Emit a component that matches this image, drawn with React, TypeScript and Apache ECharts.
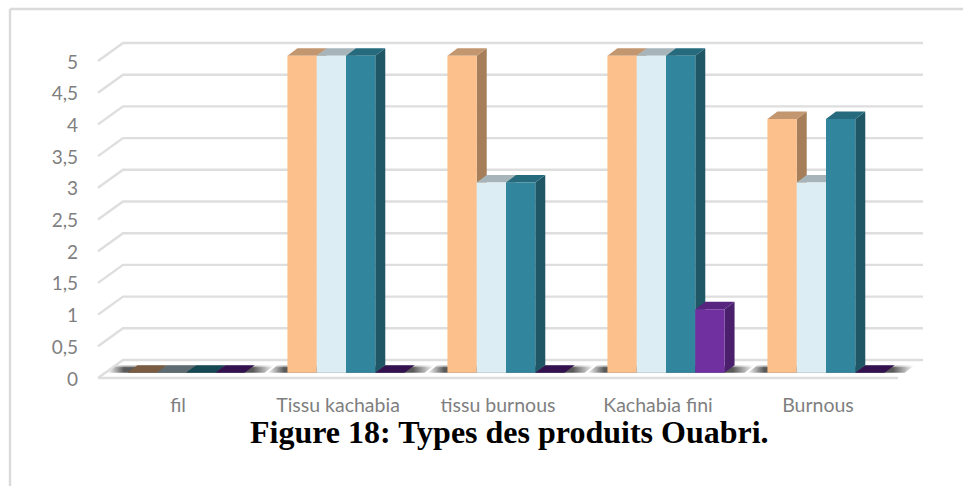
import React, { useEffect, useRef } from "react";
import * as echarts from "echarts";

const categories = ["fil", "Tissu kachabia", "tissu burnous", "Kachabia fini", "Burnous"];
const seriesA = [0, 5, 5, 5, 4];
const seriesB = [0, 5, 3, 5, 3];
const seriesC = [0, 5, 3, 5, 4];
const seriesD = [0, 0, 0, 1, 0];
const yTicks = [0, 0.5, 1, 1.5, 2, 2.5, 3, 3.5, 4, 4.5, 5];
const caption = "Figure 18: Types des produits Ouabri.";

const faces = [
  { front: "#FCC08C", top: "#C2966F", side: "#A67F5A", zero: "#7A5C42" },
  { front: "#DCEEF4", top: "#A7B5BA", side: "#A7B5BA", zero: "#5E6C71" },
  { front: "#31859C", top: "#266B7D", side: "#205767", zero: "#154853" },
  { front: "#7030A0", top: "#572480", side: "#4A1F6C", zero: "#34124F" },
];
const WALL = [25, -18];
const BASE = [8, -5.3];
const DEPTH = [10, -7.5];
const GRID_COLOR = "#DEDEDE";

const poly = (points: number[][], fill: any) => ({
  type: "polygon",
  shape: { points },
  style: { fill, stroke: null },
  silent: true,
});

const barSeries = (values: number[], idx: number) => ({
  type: "custom",
  z: 5,
  silent: true,
  encode: { x: 0, y: 1 },
  data: values.map((v, i) => [i, v]),
  renderItem: (_p: any, api: any) => {
    const cat = api.value(0);
    const val = api.value(1);
    const band = api.size([1, 0])[0];
    const w = band * 0.183;
    const cx = api.coord([cat, 0])[0];
    const x0 = cx - 2 * w + BASE[0] + idx * w;
    const x1 = x0 + w;
    const yB = api.coord([cat, 0])[1] + BASE[1];
    const yT = api.coord([cat, val])[1] + BASE[1];
    const f = faces[idx];
    const [dx, dy] = DEPTH;
    const children: any[] = [];
    if (val > 0) {
      children.push(poly([[x1, yT], [x1 + dx, yT + dy], [x1 + dx, yB + dy], [x1, yB]], f.side));
    }
    children.push(poly([[x0, yT], [x0 + dx, yT + dy], [x1 + dx, yT + dy], [x1, yT]], val > 0 ? f.top : f.zero));
    if (val > 0) {
      children.push(poly([[x0, yT], [x1, yT], [x1, yB], [x0, yB]], f.front));
    }
    return { type: "group", children };
  },
});

const wallSeries = {
  type: "custom",
  z: 1,
  silent: true,
  encode: { x: 0, y: 1 },
  data: yTicks.map((t) => [0, t]),
  renderItem: (p: any, api: any) => {
    const r = p.coordSys;
    const y = api.coord([0, api.value(1)])[1];
    const lineStyle = { stroke: GRID_COLOR, lineWidth: 2.4, fill: null };
    const points = [[r.x, y], [r.x + WALL[0], y + WALL[1]], [r.x + r.width + WALL[0], y + WALL[1]]];
    const children: any[] = [{ type: "polyline", shape: { points }, style: lineStyle, silent: true }];
    if (api.value(1) === 0) {
      children.push({
        type: "line",
        shape: { x1: r.x, y1: y, x2: r.x + r.width, y2: y },
        style: lineStyle,
        silent: true,
      });
    }
    return { type: "group", children };
  },
};

const shadowSeries = {
  type: "custom",
  z: 2,
  silent: true,
  encode: { x: 0, y: 1 },
  data: categories.map((_, i) => [i, 0]),
  renderItem: (_p: any, api: any) => {
    const cat = api.value(0);
    const band = api.size([1, 0])[0];
    const w = band * 0.183;
    const [cx, y0] = api.coord([cat, 0]);
    const yB = y0 + BASE[1];
    const x0 = cx - 2 * w + BASE[0] - 20;
    const x1 = cx + 2 * w + BASE[0] + 20;
    const fill = new echarts.graphic.LinearGradient(0, 0, 1, 0, [
      { offset: 0, color: "rgba(60,60,60,0)" },
      { offset: 0.1, color: "rgba(60,60,60,0.85)" },
      { offset: 0.87, color: "rgba(60,60,60,0.85)" },
      { offset: 1, color: "rgba(60,60,60,0)" },
    ]);
    const fadeTop = new echarts.graphic.LinearGradient(0, 0, 0, 1, [
      { offset: 0, color: "rgba(255,255,255,1)" },
      { offset: 1, color: "rgba(255,255,255,0)" },
    ]);
    return {
      type: "group",
      children: [
        poly([[x0, yB], [x0 + 10, yB - 7.5], [x1 + 10, yB - 7.5], [x1, yB]], fill),
        poly([[x0 + 6.7, yB - 5], [x0 + 10, yB - 7.5], [x1 + 10, yB - 7.5], [x1 + 6.7, yB - 5]], fadeTop),
      ],
    };
  },
};

export default function App() {
  const ref = useRef<HTMLDivElement>(null);
  useEffect(() => {
    const chart = echarts.init(ref.current!, undefined, { renderer: "svg" });
    chart.setOption({
      animation: false,
      backgroundColor: "#ffffff",
      title: {
        text: caption,
        left: 250,
        top: 419,
        padding: 0,
        textStyle: { fontFamily: "Liberation Serif", fontWeight: "bold", fontSize: 32, lineHeight: 26, color: "#000000" },
      },
      grid: { left: 98, top: 61, width: 800, height: 317 },
      xAxis: {
        type: "category",
        data: categories,
        axisLine: { show: false },
        axisTick: { show: false },
        splitLine: { show: false },
        axisLabel: { interval: 0, margin: 17, lineHeight: 18, fontFamily: "Lato", fontSize: 19.5, color: "#7F7F7F" },
      },
      yAxis: {
        type: "value",
        min: 0,
        max: 5,
        interval: 0.5,
        axisLine: { show: false },
        axisTick: { show: false },
        splitLine: { show: false },
        axisLabel: {
          margin: 20,
          fontFamily: "Lato",
          fontSize: 19,
          color: "#7F7F7F",
          formatter: (v: number) => String(v).replace(".", ","),
        },
      },
      graphic: [
        { type: "line", shape: { x1: 10, y1: 9, x2: 963, y2: 9 }, style: { stroke: "#DADADA", lineWidth: 2.4 } },
        { type: "line", shape: { x1: 10, y1: 9, x2: 10, y2: 486 }, style: { stroke: "#DADADA", lineWidth: 2.4 } },
      ],
      series: [
        wallSeries,
        shadowSeries,
        barSeries(seriesA, 0),
        barSeries(seriesB, 1),
        barSeries(seriesC, 2),
        barSeries(seriesD, 3),
      ],
    });
    return () => chart.dispose();
  }, []);
  return <div ref={ref} style={{ position: "absolute", left: 0, top: 0, width: 963, height: 486 }} />;
}
